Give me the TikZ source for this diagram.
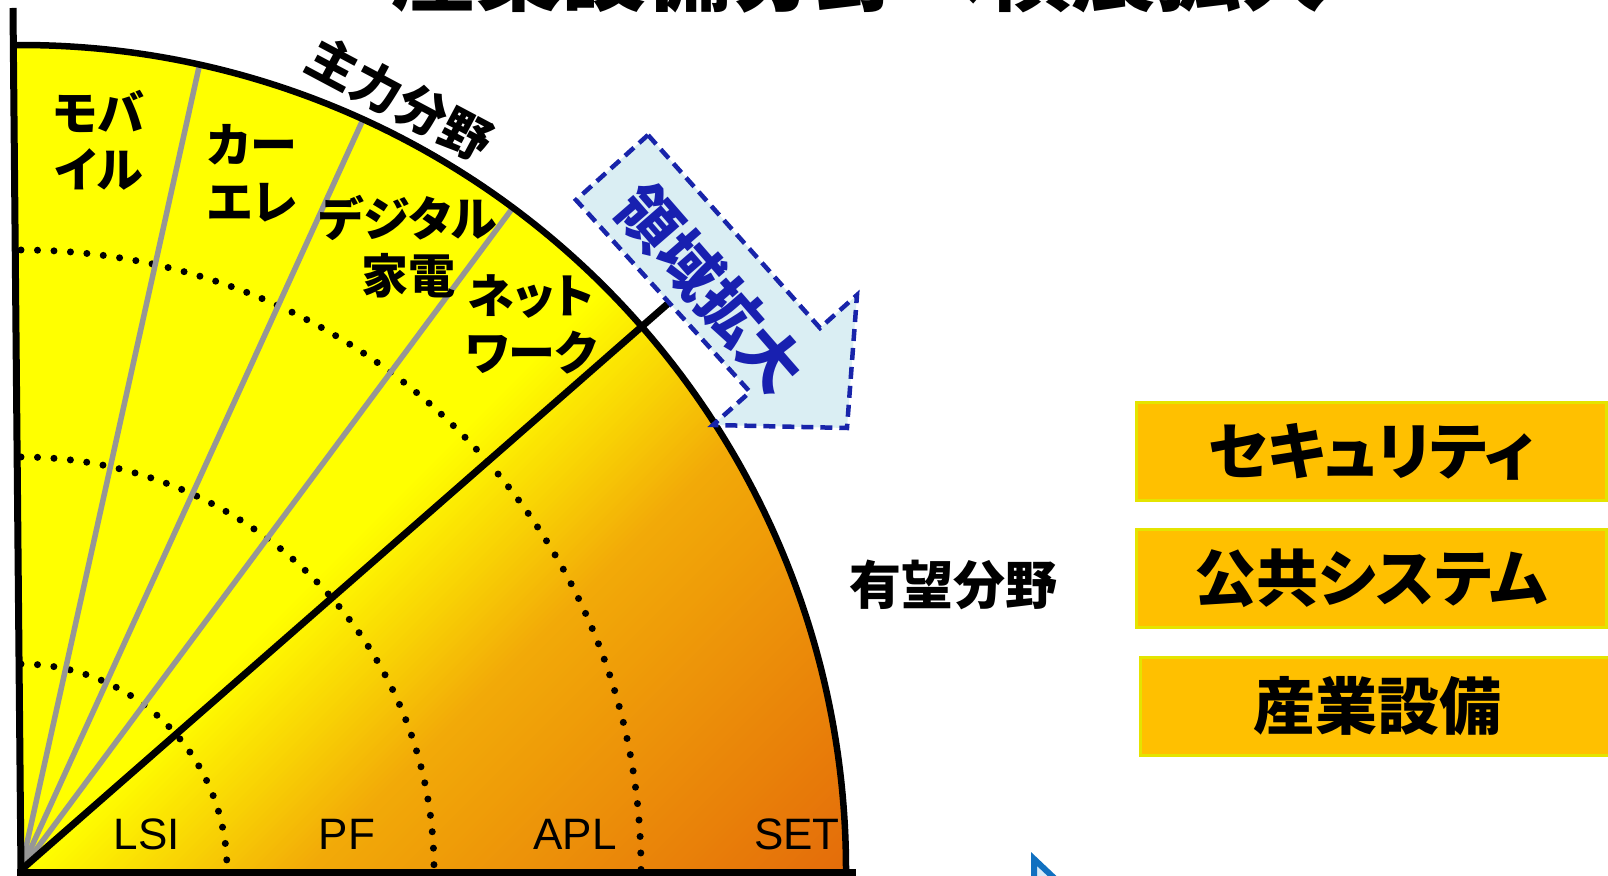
\documentclass[tikz,border=0pt]{standalone}
\usepackage{fontspec}
\setmainfont{Liberation Sans}
\newfontfamily\jp{Noto Sans CJK JP}[RawFeature=+palt]
\newfontfamily\jpm{Noto Sans CJK JP}
\definecolor{fanyellow}{rgb}{1,1,0}
\definecolor{grayc}{RGB}{150,150,150}
\definecolor{boxfill}{RGB}{255,192,0}
\definecolor{boxborder}{RGB}{228,228,0}
\definecolor{arrowfill}{RGB}{218,238,243}
\definecolor{arrowline}{RGB}{24,36,170}
\definecolor{arrowtext}{RGB}{24,32,176}
\definecolor{cursorline}{RGB}{16,112,192}
\definecolor{cursorfill}{RGB}{214,234,248}
\tikzset{
  fanarc/.style={line width=6.5pt, black},
  axisline/.style={line width=7pt, black},
  grayline/.style={line width=5.5pt, grayc},
  mainline/.style={line width=7pt, black},
  dotline/.style={line width=7pt, dash pattern=on 0pt off 16.5pt, line cap=round, black},
  lbl/.style={font=\jp\bfseries\fontsize{47}{57}\selectfont, align=center, inner sep=0pt},
  arclbl/.style={font=\jp\bfseries\fontsize{50}{56}\selectfont, inner sep=0pt},
  abc/.style={font=\fontsize{44}{50}\selectfont, inner sep=0pt},
  boxnode/.style={draw=boxborder, line width=3pt, fill=boxfill, minimum height=98pt, inner sep=0pt, font=\jp\bfseries\fontsize{62}{70}\selectfont},
  blockarrow/.style={draw=arrowline, fill=arrowfill, line width=4.5pt, dash pattern=on 12pt off 7pt, line join=miter},
}
\begin{document}
\begin{tikzpicture}[x=1pt,y=1pt]
\useasboundingbox (0,0) rectangle (1608,875);
\coordinate (O) at (21,5);
% shaded quarter disk
\begin{scope}
  \clip (O) -- ++(825,0) arc[start angle=0,end angle=90.4,radius=825] -- cycle;
  \fill[fanyellow] (-10,-10) rectangle (900,900);
  \begin{scope}[shift={(O)}, rotate=-45]
    \foreach \p in {0,4,...,620}{
      \pgfmathsetmacro\q{min(\p,583)}
      \pgfmathsetmacro\rr{\q<200 ? 1-(1-0.949)*\q/200 : 0.949-(0.949-0.894)*(\q-200)/383}
      \pgfmathsetmacro\gg{\q<200 ? 1-(1-0.667)*\q/200 : 0.667-(0.667-0.424)*(\q-200)/383}
      \pgfmathsetmacro\bb{\q<200 ? 0.0+0.031*\q/200 : 0.031+0.008*(\q-200)/383}
      \definecolor{bandc}{rgb}{\rr,\gg,\bb}
      \fill[bandc] (\p,-1000) rectangle (\p+5,1000);
    }
  \end{scope}
\end{scope}
% dotted arcs
\draw[dotline] (O) ++(0,206) arc[start angle=90,end angle=0,radius=206];
\draw[dotline] (O) ++(0,413) arc[start angle=90,end angle=0,radius=413];
\draw[dotline] (O) ++(0,620) arc[start angle=90,end angle=0,radius=620];
% gray sector lines
\path (O) ++(77.5:825) coordinate (g1);
\path (O) ++(65.5:825) coordinate (g2);
\path (O) ++(53.4:825) coordinate (g3);
\path (O) ++(41.2:861) coordinate (m1);
\draw[grayline] (O) -- (g1);
\draw[grayline] (O) -- (g2);
\draw[grayline] (O) -- (g3);
\draw[mainline] (O) -- (m1);
% outer arc and axes
\path (O) ++(825,0) coordinate (arcend);
\draw[fanarc] (arcend) arc[start angle=0,end angle=90.4,radius=825];
\coordinate (vtop) at (13,867);
\coordinate (vbot) at (21,2);
\coordinate (hstart) at (17,3);
\coordinate (hend) at (856,3);
\draw[axisline] (vbot) -- (vtop);
\draw[axisline] (hstart) -- (hend);
% block arrow
\coordinate (a1) at (648,740);
\coordinate (a2) at (576,675);
\coordinate (a3) at (750,483);
\coordinate (a4) at (713,450);
\coordinate (a5) at (847,447);
\coordinate (a6) at (857,580);
\coordinate (a7) at (820,547);
\draw[blockarrow] (a1) -- (a2) -- (a3) -- (a4) -- (a5) -- (a6) -- (a7) -- cycle;
\node[font=\jp\bfseries\fontsize{62}{62}\selectfont, text=arrowtext, rotate=-49, inner sep=0pt] (ryoiki) at (711,587) {領域拡大};
% cursor fragment
\coordinate (c1) at (1034,16);
\coordinate (c2) at (1070,-18);
\coordinate (c3) at (1034,-18);
\draw[draw=cursorline, fill=cursorfill, line width=6pt, line join=miter] (c1) -- (c2) -- (c3) -- cycle;
% labels
\node[lbl] (mobile) at (99,735) {モバ\\イル};
\node[lbl] (carele) at (252,702) {カー\\エレ};
\node[lbl] (digital) at (408,628) {デジタル\\家電};
\node[lbl] (network) at (531,551) {ネット\\ワーク};
\node[arclbl, rotate=-28] (shuryoku) at (400,776) {主力分野};
\node[font=\jp\bfseries\fontsize{52}{60}\selectfont, inner sep=0pt] (yubo) at (953,290) {有望分野};
\node[abc] (lsi) at (147,41) {LSI};
\node[abc] (pf) at (347,41) {PF};
\node[abc] (apl) at (575,41) {APL};
\node[abc] (set) at (797,41) {SET};
% boxes
\node[boxnode, minimum width=470pt] (sec) at (1371,423) {セキュリティ};
\node[boxnode, minimum width=470pt] (pub) at (1371,296.5) {公共システム};
\node[boxnode, minimum width=474pt] (ind) at (1377,168.5) {産業設備};
% title (cut off at top)
\node[font=\jpm\bfseries\fontsize{85}{90}\selectfont, anchor=base, inner sep=0pt] (title) at (859,870) {産業設備分野へ横展拡大};
\end{tikzpicture}
\end{document}
